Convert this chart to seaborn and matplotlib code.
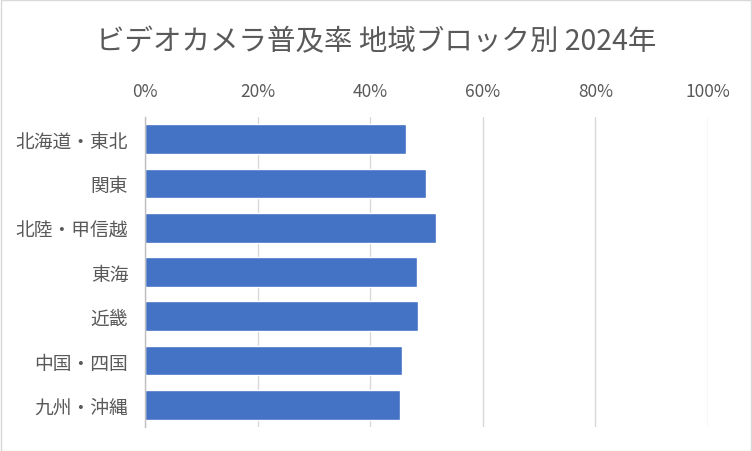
import matplotlib
import pandas as pd
import seaborn as sns

matplotlib.use('agg')
import matplotlib.pyplot as plt  # noqa
from matplotlib.patches import Rectangle  # noqa
from matplotlib.ticker import PercentFormatter  # noqa

regions = ["北海道・東北", "関東", "北陸・甲信越", "東海", "近畿", "中国・四国", "九州・沖縄"]
rates = [46.4, 49.9, 51.6, 48.3, 48.5, 45.6, 45.3]
x_ticks = [0, 20, 40, 60, 80, 100]

sns.set_theme(style="white")
plt.rcParams['font.family'] = ['Noto Sans CJK JP', 'DejaVu Sans']

TEXT = "#595959"
df = pd.DataFrame({"region": regions, "rate": rates})

fig = plt.figure(figsize=(7.52, 4.52), dpi=100)
ax = fig.add_axes([145 / 752, 1 - 428 / 452, 563 / 752, 310 / 452])

sns.barplot(data=df, x="rate", y="region", orient="h", color="#4472C4",
            saturation=1, width=0.67, ax=ax)

ax.set_xlim(0, 100)
ax.set_xticks(x_ticks)
ax.xaxis.set_major_formatter(PercentFormatter(decimals=0))
ax.xaxis.tick_top()
ax.grid(axis="x", color="#D9D9D9", lw=1)
ax.set_axisbelow(True)
ax.set(xlabel=None, ylabel=None)
ax.tick_params(axis="x", length=0, pad=12, labelsize=12.5, labelcolor=TEXT)
ax.tick_params(axis="y", length=0, pad=12, labelsize=13.5, labelcolor=TEXT)
for s in ["top", "right", "bottom"]:
    ax.spines[s].set_visible(False)
ax.spines["left"].set_color("#BFBFBF")
ax.spines["left"].set_linewidth(1)

fig.text(0.5, 1 - 42 / 452, "ビデオカメラ普及率 地域ブロック別 2024年",
         ha="center", va="center", fontsize=20.5, color=TEXT)

fig.patches.append(Rectangle((0.001, 0.001), 0.998, 0.997, transform=fig.transFigure,
                             fill=False, edgecolor="#D9D9D9", lw=1))

fig.savefig("out.png", dpi=100, facecolor="white")
